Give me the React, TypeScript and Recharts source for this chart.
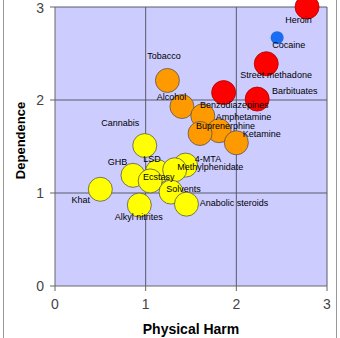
import { CartesianGrid, LabelList, Scatter, ScatterChart, XAxis, YAxis } from 'recharts';

type Pt = { name: string; harm: number; dependence: number };

// Nutt et al. — mean physical harm vs dependence scores
const redDrugs: Pt[] = [
  { name: 'Heroin', harm: 2.78, dependence: 3.0 },
  { name: 'Cocaine', harm: 2.33, dependence: 2.39 },
  { name: 'Street methadone', harm: 1.86, dependence: 2.08 },
  { name: 'Barbituates', harm: 2.23, dependence: 2.01 }
];

const orangeDrugs: Pt[] = [
  { name: 'Tobacco', harm: 1.24, dependence: 2.21 },
  { name: 'Alcohol', harm: 1.4, dependence: 1.93 },
  { name: 'Benzodiazepines', harm: 1.63, dependence: 1.83 },
  { name: 'Amphetamine', harm: 1.81, dependence: 1.67 },
  { name: 'Buprenerphine', harm: 1.6, dependence: 1.64 },
  { name: 'Ketamine', harm: 2.0, dependence: 1.54 }
];

const yellowDrugs: Pt[] = [
  { name: 'Cannabis', harm: 0.99, dependence: 1.51 },
  { name: 'GHB', harm: 0.86, dependence: 1.19 },
  { name: 'LSD', harm: 1.13, dependence: 1.23 },
  { name: 'Ecstasy', harm: 1.05, dependence: 1.13 },
  { name: '4-MTA', harm: 1.44, dependence: 1.3 },
  { name: 'Methylphenidate', harm: 1.32, dependence: 1.25 },
  { name: 'Solvents', harm: 1.28, dependence: 1.01 },
  { name: 'Anabolic steroids', harm: 1.45, dependence: 0.88 },
  { name: 'Khat', harm: 0.5, dependence: 1.04 },
  { name: 'Alkyl nitrites', harm: 0.93, dependence: 0.87 }
];

const bluePoints: Pt[] = [{ name: '', harm: 2.45, dependence: 2.67 }];

const ticks = [0, 1, 2, 3];

// label offsets from bubble centre, in pixels
const labelOffset: Record<string, [number, number]> = {
  Heroin: [-4, 18],
  Cocaine: [27, -14],
  'Street methadone': [57, -13],
  Barbituates: [42, -4],
  Tobacco: [1, -20],
  Alcohol: [-6, -5],
  Benzodiazepines: [36, -6],
  Amphetamine: [29, -9],
  Buprenerphine: [30, -3],
  Ketamine: [30, -4],
  Cannabis: [-20, -18],
  GHB: [-11, -9],
  LSD: [-1, -8],
  Ecstasy: [13, 1],
  '4-MTA': [27, -2],
  Methylphenidate: [40, 2],
  Solvents: [17, 1],
  'Anabolic steroids': [52, 3],
  Khat: [-15, 15],
  'Alkyl nitrites': [4, 16]
};

const allLabelled = [...redDrugs, ...orangeDrugs, ...yellowDrugs];

const FONT = 'Arial, "Liberation Sans", sans-serif';

function bubble(fill: string, stroke: string, r: number) {
  return (p: any) => (
    <circle cx={p.cx} cy={p.cy} r={r} fill={fill} stroke={stroke} strokeWidth={0.8} />
  );
}

function DrugLabel(p: any) {
  const name = p.value as string;
  const off = labelOffset[name] || [0, 0];
  return (
    <text
      x={p.x + off[0]}
      y={p.y + off[1]}
      textAnchor='middle'
      dominantBaseline='central'
      fontSize={9}
      fontFamily={FONT}
      fill='#000'
    >
      {name}
    </text>
  );
}

function DependenceLabel(p: any) {
  const vb = p.viewBox || {};
  const x = 20;
  const y = vb.y + vb.height / 2 - 6;
  return (
    <text
      x={x}
      y={y}
      transform={`rotate(-90, ${x}, ${y})`}
      textAnchor='middle'
      dominantBaseline='central'
      fontSize={13}
      fontWeight='bold'
      fontFamily={FONT}
      fill='#000'
    >
      Dependence
    </text>
  );
}

export default function App() {
  return (
    <div
      style={{
        position: 'absolute',
        left: 0,
        top: 0,
        width: 340,
        height: 338,
        background: '#fff'
      }}
    >
      <div
        style={{
          position: 'absolute',
          left: 3,
          top: -1,
          width: 334,
          height: 345,
          border: '1px solid #999',
          boxSizing: 'border-box'
        }}
      />
      <ScatterChart
        width={340}
        height={338}
        margin={{ top: 7, right: 13, left: 0, bottom: 0 }}
        style={{ fontFamily: FONT }}
      >
        <CartesianGrid
          fill='#ccccff'
          fillOpacity={1}
          stroke='#5a5a6a'
          strokeWidth={1}
          horizontalValues={[1, 2, 3]}
          verticalValues={[1, 2, 3]}
        />
        <XAxis
          type='number'
          dataKey='harm'
          domain={[0, 3]}
          ticks={ticks}
          height={52}
          stroke='#666'
          tickSize={5}
          tick={{ fontSize: 14, fill: '#444' }}
          tickMargin={8}
          label={{
            value: 'Physical Harm',
            position: 'insideBottom',
            offset: 4,
            style: { fontSize: 14, fontWeight: 'bold', fill: '#000' }
          }}
        />
        <YAxis
          type='number'
          dataKey='dependence'
          domain={[0, 3]}
          ticks={ticks}
          width={55}
          stroke='#666'
          tickSize={5}
          tick={{ fontSize: 14, fill: '#444' }}
          tickMargin={6}
          label={<DependenceLabel />}
        />
        <Scatter data={yellowDrugs} shape={bubble('#ffff00', '#555', 12)} isAnimationActive={false} />
        <Scatter data={orangeDrugs} shape={bubble('#ff9900', '#555', 12)} isAnimationActive={false} />
        <Scatter data={redDrugs} shape={bubble('#ff0000', '#a00', 12)} isAnimationActive={false} />
        <Scatter data={bluePoints} shape={bubble('#1a6cf0', 'none', 6.5)} isAnimationActive={false} />
        <Scatter data={allLabelled} shape={() => <g />} isAnimationActive={false}>
          <LabelList dataKey='name' content={DrugLabel} />
        </Scatter>
      </ScatterChart>
    </div>
  );
}
